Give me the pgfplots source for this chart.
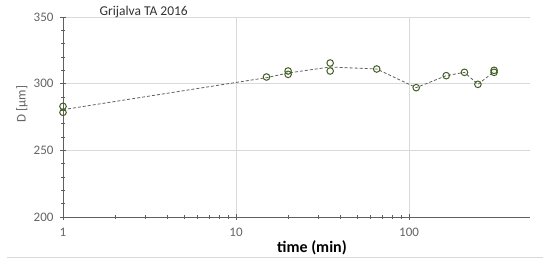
\documentclass[border=0pt]{standalone}
\usepackage{fontspec}
\setmainfont{Carlito}
\usepackage{pgfplots}
\pgfplotsset{compat=1.18}
\usetikzlibrary{calc}
\definecolor{mk}{RGB}{65,95,35}
\definecolor{ln}{RGB}{95,95,95}
\definecolor{grd}{RGB}{217,217,217}
\definecolor{tk}{RGB}{100,100,100}
\begin{document}
\begin{tikzpicture}
\begin{axis}[
    name=ax,
    scale only axis,
    width=467pt, height=200pt,
    xmode=log, xmin=1, xmax=500,
    ymin=200, ymax=350,
    ytick={200,250,300,350},
    minor y tick num=4,
    xtick={1,10,100}, xticklabels={1,10,100},
    axis lines=left,
    axis line style={-, draw=ln, line width=0.9pt},
    tick align=center,
    major tick length=6pt, minor tick length=3.5pt,
    tick style={draw=ln, line width=0.7pt},
    xmajorgrids, ymajorgrids,
    major grid style={grd, line width=0.7pt},
    ticklabel style={font=\fontsize{13}{14}\selectfont, text=tk},
    /pgf/number format/assume math mode=true,
    xticklabel style={yshift=-5pt},
    yticklabel style={xshift=-3pt},
    clip=false,
]
\addplot[ln, densely dashed, line width=0.8pt] coordinates {
    (1,280.5) (15,304.5) (20,308) (35,312.5) (65,311) (110,297)
    (164,306) (209,308.5) (250,299.5) (310,309)
};
\addplot[only marks, mark=o, mark size=3.3pt, mark options={draw=mk, line width=1pt}] coordinates {
    (1,283) (1,278.5) (15,305) (20,309.5) (20,307) (35,315.5) (35,309.5)
    (65,311) (110,297) (164,306) (209,308.5) (250,299.5) (310,310) (310,308.5)
};
\end{axis}
\node[anchor=west, font=\fontsize{13.5}{14}\selectfont, text=black!80] at ($(ax.north west)+(33pt,5pt)$) {Grijalva TA 2016};
\node[font=\fontsize{16}{17}\selectfont\bfseries] at ($(ax.south west)+(249pt,-31pt)$) {time (min)};
\node[rotate=90, font=\fontsize{13}{14}\selectfont, text=tk] at ($(ax.south west)+(-41pt,113pt)$) {D [µm]};
\draw[grd, line width=0.8pt] ($(ax.south west)+(-56pt,-40pt)$) -- ($(ax.south west)+(480pt,-40pt)$);
\path ($(ax.south west)+(-63pt,-46pt)$) rectangle ($(ax.north east)+(20pt,17pt)$);
\end{tikzpicture}
\end{document}
